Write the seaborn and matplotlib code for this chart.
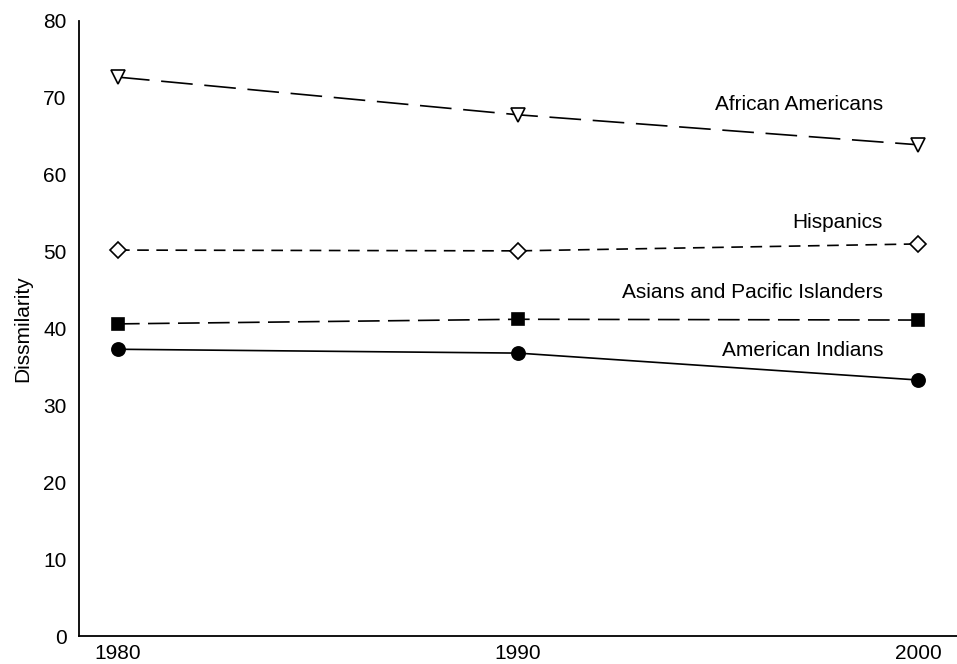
import numpy as np
import pandas as pd
import matplotlib
matplotlib.use('Agg')
import matplotlib.pyplot as plt
import seaborn as sns

years = [1980, 1990, 2000]
african_americans = [72.7, 67.8, 63.9]
hispanics = [50.2, 50.1, 51.0]
asians_pi = [40.6, 41.2, 41.1]
american_indians = [37.3, 36.8, 33.3]

groups = ['African Americans', 'Hispanics', 'Asians and Pacific Islanders', 'American Indians']
series = [african_americans, hispanics, asians_pi, american_indians]

sns.set_style('white')
plt.rcParams['font.family'] = ['Liberation Sans', 'DejaVu Sans']
plt.rcParams['text.color'] = 'black'
plt.rcParams['axes.labelcolor'] = 'black'
plt.rcParams['xtick.color'] = 'black'
plt.rcParams['ytick.color'] = 'black'

fig, ax = plt.subplots(figsize=(9.57, 6.64), dpi=100)
fig.subplots_adjust(left=79/957, right=1.0, bottom=28/664, top=1-21/664)

# marker, face colour, dash pattern (in linewidth units)
styles = [
    ('v', 'white', (0, (19, 7))),
    ('D', 'white', (0, (7, 4.5))),
    ('s', 'black', (0, (13, 5))),
    ('o', 'black', '-'),
]
sizes = {'v': 9.5, 'D': 8.5, 's': 8, 'o': 9.5}
label_y = [104, 223, 293, 350]

for name, vals, (mk, fc, ls) in zip(groups, series, styles):
    df = pd.DataFrame({'year': years, 'value': vals})
    sns.lineplot(data=df, x='year', y='value', ax=ax, color='black',
                 linewidth=1.2, linestyle=ls, marker=mk, markersize=sizes[mk],
                 markerfacecolor=fc, markeredgecolor='black',
                 markeredgewidth=1.2)

for name, ypix in zip(groups, label_y):
    ax.text(883/957, 1 - ypix/664, name, transform=fig.transFigure,
            ha='right', va='center', fontsize=15)

ax.set_xlim(1979.025, 2000.975)
ax.set_ylim(0, 80)
ax.set_xticks(years)
ax.set_yticks(range(0, 81, 10))
ax.set_xlabel('')
ax.set_ylabel('Dissmilarity', fontsize=15, labelpad=8)
ax.tick_params(axis='both', length=0, labelsize=15)
ax.tick_params(axis='y', pad=9)
ax.tick_params(axis='x', pad=6)

sns.despine(ax=ax)
for s in ['left', 'bottom']:
    ax.spines[s].set_color('black')
    ax.spines[s].set_linewidth(1.3)

fig.savefig('out.png', dpi=100)
